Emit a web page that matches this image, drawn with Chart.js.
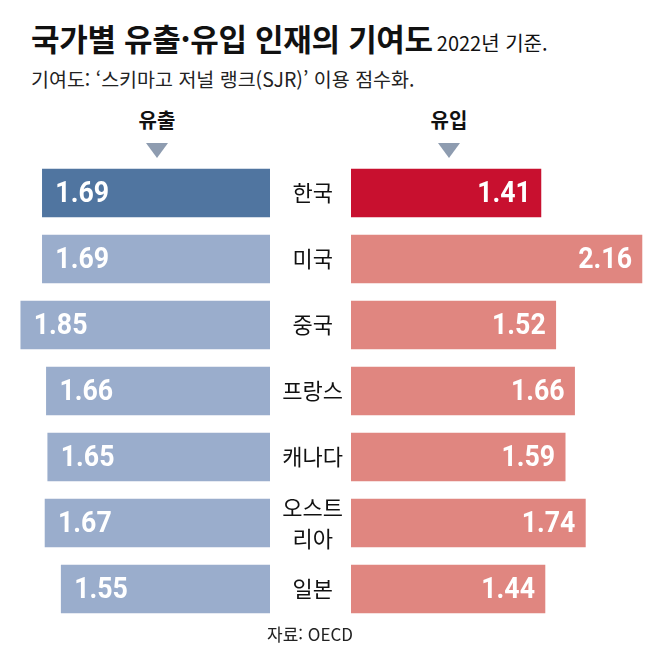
<!DOCTYPE html>
<html lang="ko">
<head>
<meta charset="utf-8">
<script src="https://cdn.jsdelivr.net/npm/chart.js@4"></script>
<style>
  body { margin: 0; background: #fff; width: 658px; height: 663px; position: relative; overflow: hidden;
         font-family: "Noto Sans CJK KR", "Noto Sans", sans-serif; color: #111; }
  .abs { position: absolute; white-space: nowrap; }
  #title { left: 31px; top: 22px; font-size: 31px; font-weight: 700; line-height: 31px; letter-spacing: -0.3px; }
  #title small { font-size: 20px; font-weight: 400; letter-spacing: 0; margin-left: 4px; }
  #sub { left: 31px; top: 69px; font-size: 19.5px; line-height: 20px; color: #222; }
  .head { width: 120px; text-align: center; top: 110px; font-size: 20px; font-weight: 700; line-height: 20px; }
  .tri { width: 0; height: 0; border-left: 11px solid transparent; border-right: 11px solid transparent;
         border-top: 15px solid #8e9cb0; top: 143px; }
  #src { left: 250px; width: 120px; text-align: center; top: 625px; font-size: 17px; line-height: 17px; color: #222; }
  #leftWrap { left: 0; top: 160px; width: 270px; height: 462px; }
  #rightWrap { left: 270px; top: 160px; width: 388px; height: 462px; }
</style>
</head>
<body>
<div id="title" class="abs">국가별 유출·유입 인재의 기여도<small>2022년 기준.</small></div>
<div id="sub" class="abs">기여도: ‘스키마고 저널 랭크(SJR)’ 이용 점수화.</div>
<div class="abs head" style="left:97px">유출</div>
<div class="abs head" style="left:389px">유입</div>
<div class="abs tri" style="left:146px"></div>
<div class="abs tri" style="left:438px"></div>
<div id="leftWrap" class="abs"><canvas id="leftChart"></canvas></div>
<div id="rightWrap" class="abs"><canvas id="rightChart"></canvas></div>
<div id="src" class="abs">자료: OECD</div>

<script>
const countries = ['한국', '미국', '중국', '프랑스', '캐나다', ['오스트', '리아'], '일본'];
const outflow = [1.69, 1.69, 1.85, 1.66, 1.65, 1.67, 1.55];
const inflow = [1.41, 2.16, 1.52, 1.66, 1.59, 1.74, 1.44];

const outColors = ['#5075a0', '#9aadcc', '#9aadcc', '#9aadcc', '#9aadcc', '#9aadcc', '#9aadcc'];
const inColors = ['#c8102f', '#e08680', '#e08680', '#e08680', '#e08680', '#e08680', '#e08680'];

// pixels per 1.0 of score, same for both sides
const pxPerUnit = 134.7;

// writes the value inside each bar, squeezed a bit like a condensed face
const valueLabels = {
    id: 'valueLabels',
    afterDatasetsDraw(chart, args, opts) {
        const ctx = chart.ctx;
        const meta = chart.getDatasetMeta(0);
        const data = chart.data.datasets[0].data;
        const squeeze = 0.89;
        ctx.save();
        ctx.fillStyle = '#fff';
        ctx.font = 'bold 30px Roboto, "Liberation Sans", sans-serif';
        ctx.textBaseline = 'middle';
        meta.data.forEach((bar, i) => {
            const txt = data[i].toFixed(2);
            const x = opts.side === 'left' ? bar.x + 13 : bar.x - 10;
            ctx.save();
            ctx.translate(x, bar.y + 1);
            ctx.scale(squeeze, 1);
            ctx.textAlign = opts.side === 'left' ? 'left' : 'right';
            ctx.fillText(txt, 0, 0);
            ctx.restore();
        });
        ctx.restore();
    }
};

new Chart(document.getElementById('leftChart'), {
    type: 'bar',
    data: {
        labels: countries,
        datasets: [{ label: '유출', data: outflow, backgroundColor: outColors, barThickness: 48 }]
    },
    options: {
        indexAxis: 'y',
        responsive: true,
        maintainAspectRatio: false,
        animation: false,
        layout: { padding: 0 },
        plugins: { legend: { display: false }, tooltip: { enabled: false }, valueLabels: { side: 'left' } },
        scales: {
            x: { display: false, reverse: true, min: 0, max: 270 / pxPerUnit },
            y: { display: false }
        }
    },
    plugins: [valueLabels]
});

new Chart(document.getElementById('rightChart'), {
    type: 'bar',
    data: {
        labels: countries,
        datasets: [{ label: '유입', data: inflow, backgroundColor: inColors, barThickness: 48 }]
    },
    options: {
        indexAxis: 'y',
        responsive: true,
        maintainAspectRatio: false,
        animation: false,
        layout: { padding: 0 },
        plugins: { legend: { display: false }, tooltip: { enabled: false }, valueLabels: { side: 'right' } },
        scales: {
            x: { display: false, min: 0, max: (388 - 81) / pxPerUnit },
            y: {
                grid: { display: false, drawTicks: false },
                border: { display: false },
                afterFit(scale) {
                    // fixed label column, and no extra room for the two-line label
                    scale.width = 81;
                    scale.paddingTop = 0;
                    scale.paddingBottom = 0;
                },
                ticks: {
                    crossAlign: 'center',
                    padding: 8,
                    color: '#111',
                    font: { family: '"Noto Sans CJK KR", sans-serif', size: 22, lineHeight: 1.4 }
                }
            }
        }
    },
    plugins: [valueLabels]
});
</script>
</body>
</html>
